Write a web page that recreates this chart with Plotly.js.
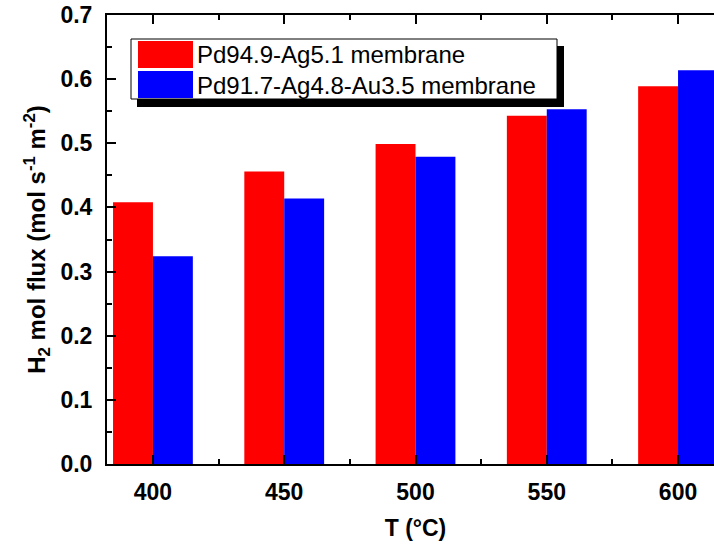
<!DOCTYPE html>
<html>
<head>
<meta charset="utf-8">
<script src="https://cdn.plot.ly/plotly-3.0.1.min.js"></script>
<style>
html,body{margin:0;padding:0;overflow:hidden;background:#fff;width:714px;height:548px;}
#chart{width:724px;height:548px;}
</style>
</head>
<body>
<div id="chart"></div>
<script>
// Data
const temperatures = [400, 450, 500, 550, 600];
const seriesNames = ["Pd94.9-Ag5.1 membrane", "Pd91.7-Ag4.8-Au3.5 membrane"];
const pdAgFlux = [0.408, 0.456, 0.499, 0.543, 0.589];
const pdAgAuFlux = [0.324, 0.414, 0.479, 0.553, 0.614];
const seriesColors = ["#ff0000", "#0000ff"];
const yTickVals = [0, 0.1, 0.2, 0.3, 0.4, 0.5, 0.6, 0.7];
const yTickText = ["0.0", "0.1", "0.2", "0.3", "0.4", "0.5", "0.6", "0.7"];

const FONT = "Liberation Sans, Arial, Helvetica, sans-serif";

const traces = [
  {type: "bar", x: temperatures, y: pdAgFlux, name: seriesNames[0],
   marker: {color: seriesColors[0], line: {width: 0}}},
  {type: "bar", x: temperatures, y: pdAgAuFlux, name: seriesNames[1],
   marker: {color: seriesColors[1], line: {width: 0}}}
];

// Custom legend (box with drop shadow, large swatches)
const px = v => (v - 107) / 617;
const py = v => (464 - v) / 449;
const shapes = [
  {type: "rect", xref: "paper", yref: "paper", layer: "above",
   x0: px(137), x1: px(564), y0: py(107), y1: py(46),
   fillcolor: "#000", line: {width: 0}},
  {type: "rect", xref: "paper", yref: "paper", layer: "above",
   x0: px(131), x1: px(557), y0: py(99), y1: py(39),
   fillcolor: "#fff", line: {color: "#000", width: 1}},
  {type: "rect", xref: "paper", yref: "paper", layer: "above",
   x0: px(138), x1: px(193), y0: py(68), y1: py(41),
   fillcolor: seriesColors[0], line: {width: 0}},
  {type: "rect", xref: "paper", yref: "paper", layer: "above",
   x0: px(138), x1: px(193), y0: py(98), y1: py(71),
   fillcolor: seriesColors[1], line: {width: 0}}
];
const annotations = [
  {xref: "paper", yref: "paper", x: px(195), y: py(55),
   xanchor: "left", yanchor: "middle", showarrow: false, text: seriesNames[0],
   font: {family: FONT, size: 24, color: "#000"}},
  {xref: "paper", yref: "paper", x: px(195), y: py(85),
   xanchor: "left", yanchor: "middle", showarrow: false, text: seriesNames[1],
   font: {family: FONT, size: 24, color: "#000"}}
];

const layout = {
  width: 724, height: 548,
  margin: {l: 107, r: 0, t: 15, b: 84, pad: 0},
  paper_bgcolor: "#fff", plot_bgcolor: "#fff",
  showlegend: false,
  barmode: "group", bargap: 0.392, bargroupgap: 0,
  font: {family: FONT, color: "#000"},
  xaxis: {
    range: [382.5, 617.5], tickvals: temperatures, ticktext: temperatures.map(String),
    ticks: "inside", ticklen: 9, tickwidth: 2, tickcolor: "#000",
    minor: {dtick: 25, tick0: 375, ticks: "inside", ticklen: 5, tickwidth: 2, tickcolor: "#000"},
    showline: true, linewidth: 2, linecolor: "#000", mirror: "ticks",
    showgrid: false, zeroline: false,
    tickfont: {family: FONT, size: 23, weight: "bold", color: "#000"},
    ticklabelstandoff: 6,
    title: {text: "T (°C)", font: {family: FONT, size: 23, weight: "bold", color: "#000"}, standoff: 16}
  },
  yaxis: {
    range: [0, 0.7], tickvals: yTickVals, ticktext: yTickText,
    ticks: "inside", ticklen: 9, tickwidth: 2, tickcolor: "#000",
    minor: {dtick: 0.05, tick0: 0, ticks: "inside", ticklen: 5, tickwidth: 2, tickcolor: "#000"},
    showline: true, linewidth: 2, linecolor: "#000", mirror: "ticks",
    showgrid: false, zeroline: false,
    tickfont: {family: FONT, size: 23, weight: "bold", color: "#000"},
    ticklabelstandoff: 8,
    title: {text: "H<sub>2</sub> mol flux (mol s<sup>-1</sup> m<sup>-2</sup>)",
            font: {family: FONT, size: 24, weight: "bold", color: "#000"}, standoff: 8}
  },
  shapes: shapes,
  annotations: annotations
};

Plotly.newPlot("chart", traces, layout, {displayModeBar: false, staticPlot: true});
</script>
</body>
</html>
